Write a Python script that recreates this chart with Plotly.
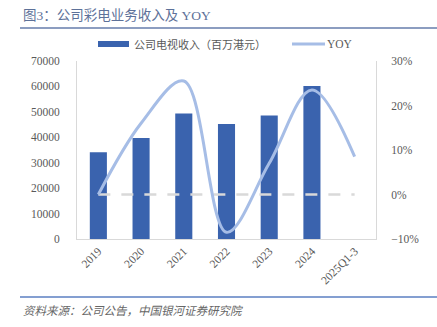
import plotly.graph_objects as go

# Data
periods = ["2019", "2020", "2021", "2022", "2023", "2024", "2025Q1-3"]
tv_revenue = [34100, 39700, 49400, 45200, 48600, 60200, None]  # 百万港元
yoy = [0.0, 0.16, 0.255, -0.085, 0.07, 0.235, 0.085]
zero_ref = [0, 0, 0, 0, 0, 0, 0]

title_text = "图3：公司彩电业务收入及 YOY"
bar_name = "公司电视收入（百万港元）"
line_name = "YOY"
source_text = "资料来源：公司公告，中国银河证券研究院"

BAR_COLOR = "#3A63AE"
LINE_COLOR = "#A6BDE6"
ZERO_COLOR = "#D9D9D9"
AXIS_COLOR = "#D9D9D9"
TICK_COLOR = "#595959"
FONT = "Liberation Serif, Noto Sans CJK SC, serif"
CJK = "Noto Sans CJK SC, sans-serif"

W, H = 437, 327
L, R, T, B = 77, 61, 61, 88
PW, PH = W - L - R, H - T - B


def px(x):
    return (x - L) / PW


def py(y):
    return (H - B - y) / PH


fig = go.Figure()

fig.add_trace(go.Bar(
    x=periods, y=tv_revenue, name=bar_name,
    marker=dict(color=BAR_COLOR, line=dict(width=0)),
    width=0.4, yaxis="y", showlegend=False, hoverinfo="skip",
))

fig.add_trace(go.Scatter(
    x=periods, y=zero_ref, mode="lines", yaxis="y2",
    line=dict(color=ZERO_COLOR, width=2.5, dash="12px,11px"),
    showlegend=False, hoverinfo="skip",
))

fig.add_trace(go.Scatter(
    x=periods, y=yoy, name=line_name, mode="lines", yaxis="y2",
    line=dict(color=LINE_COLOR, width=3, shape="spline", smoothing=1.0),
    showlegend=False, hoverinfo="skip",
))

shapes = [
    # title underline
    dict(type="line", xref="paper", yref="paper",
         x0=px(20), x1=px(437), y0=py(28), y1=py(28),
         line=dict(color="#8C9DC0", width=2)),
    # source rule
    dict(type="line", xref="paper", yref="paper",
         x0=px(20), x1=px(437), y0=py(297), y1=py(297),
         line=dict(color="#5B7FC2", width=1.5)),
    # legend swatches
    dict(type="rect", xref="paper", yref="paper",
         x0=px(98), x1=px(129), y0=py(47), y1=py(41),
         fillcolor=BAR_COLOR, line=dict(width=0)),
    dict(type="line", xref="paper", yref="paper",
         x0=px(292), x1=px(325), y0=py(44), y1=py(44),
         line=dict(color=LINE_COLOR, width=3)),
]

annotations = [
    dict(text=title_text, xref="paper", yref="paper", x=px(21), y=py(16),
         xanchor="left", yanchor="middle", showarrow=False,
         font=dict(family="Liberation Serif, Noto Sans CJK SC", size=13.5, color="#5D7199")),
    dict(text=bar_name, xref="paper", yref="paper", x=px(132), y=py(44),
         xanchor="left", yanchor="middle", showarrow=False,
         font=dict(family=CJK, size=11, color=TICK_COLOR)),
    dict(text=line_name, xref="paper", yref="paper", x=px(325), y=py(44),
         xanchor="left", yanchor="middle", showarrow=False,
         font=dict(family=FONT, size=11.5, color=TICK_COLOR)),
    dict(text="<i>" + source_text + "</i>", xref="paper", yref="paper",
         x=px(21), y=py(310), xanchor="left", yanchor="middle", showarrow=False,
         font=dict(family=CJK, size=11.5, color="#666666")),
]

fig.update_layout(
    width=W, height=H,
    margin=dict(l=L, r=R, t=T, b=B, pad=0),
    paper_bgcolor="white", plot_bgcolor="white",
    font=dict(family=FONT, size=11.5, color=TICK_COLOR),
    bargap=0.6,
    xaxis=dict(
        type="category", categoryorder="array", categoryarray=periods,
        showline=True, linecolor=AXIS_COLOR, linewidth=1,
        showgrid=False, zeroline=False, ticks="", tickangle=-45,
        tickfont=dict(family=FONT, size=11.5, color=TICK_COLOR),
        range=[-0.5, len(periods) - 0.5],
    ),
    yaxis=dict(
        range=[0, 70000], dtick=10000, tickformat="d",
        showline=True, linecolor=AXIS_COLOR, linewidth=1,
        showgrid=False, zeroline=False, ticks="",
        ticklabelstandoff=14,
        tickfont=dict(family=FONT, size=11.5, color=TICK_COLOR),
    ),
    yaxis2=dict(
        range=[-0.1, 0.3], dtick=0.1, tickformat=".0%",
        overlaying="y", side="right",
        showline=True, linecolor=AXIS_COLOR, linewidth=1,
        showgrid=False, zeroline=False, ticks="",
        ticklabelstandoff=12,
        tickfont=dict(family=FONT, size=11.5, color=TICK_COLOR),
    ),
    shapes=shapes,
    annotations=annotations,
    showlegend=False,
)

fig.write_html("out.html")
